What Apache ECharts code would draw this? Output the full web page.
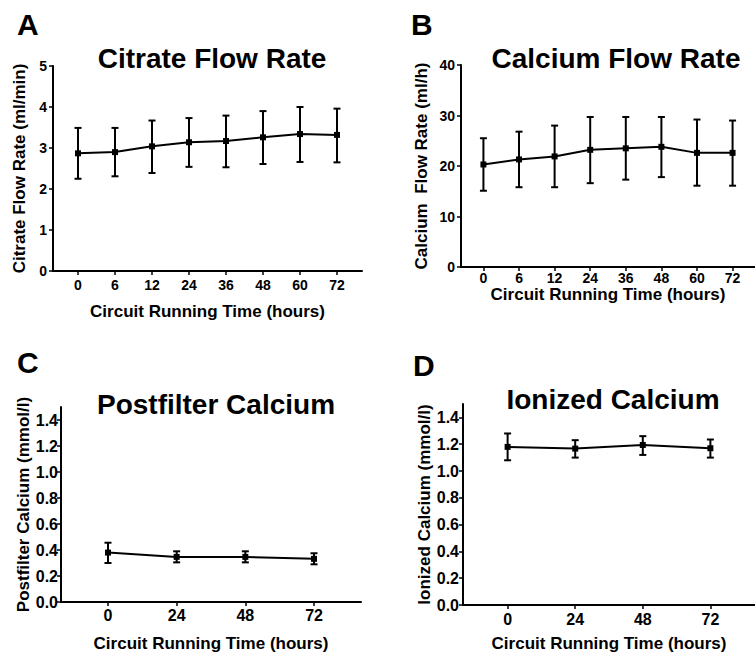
<!DOCTYPE html>
<html>
<head>
<meta charset="utf-8">
<script src="https://cdn.jsdelivr.net/npm/echarts@6/dist/echarts.min.js"></script>
<style>
html,body{margin:0;padding:0;background:#fff;}
#main{width:755px;height:653px;}
</style>
</head>
<body>
<div id="main"></div>
<script>
// ---- data ----
const catsAB = ['0', '6', '12', '24', '36', '48', '60', '72'];
const catsCD = ['0', '24', '48', '72'];

const citrateMean  = [2.87, 2.90, 3.04, 3.14, 3.17, 3.26, 3.34, 3.32];
const citrateUpper = [3.49, 3.49, 3.67, 3.73, 3.79, 3.90, 4.00, 3.96];
const citrateLower = [2.25, 2.31, 2.39, 2.54, 2.53, 2.61, 2.66, 2.65];

const calciumMean  = [20.3, 21.3, 21.9, 23.2, 23.5, 23.8, 22.6, 22.6];
const calciumUpper = [25.5, 26.8, 28.0, 29.7, 29.7, 29.7, 29.2, 29.0];
const calciumLower = [15.1, 15.8, 15.8, 16.6, 17.3, 17.8, 16.1, 16.1];

const postMean  = [0.38, 0.347, 0.347, 0.332];
const postUpper = [0.456, 0.39, 0.39, 0.375];
const postLower = [0.30, 0.305, 0.305, 0.29];

const ionMean  = [1.18, 1.167, 1.194, 1.17];
const ionUpper = [1.28, 1.23, 1.26, 1.235];
const ionLower = [1.08, 1.10, 1.12, 1.10];

const yTicksA = [0, 1, 2, 3, 4, 5];
const yTicksB = [0, 10, 20, 30, 40];
const yTicksCD = [0, 0.2, 0.4, 0.6, 0.8, 1.0, 1.2, 1.4];

// ---- chart ----
const FONT = '"Liberation Sans", Arial, Helvetica, sans-serif';
const chart = echarts.init(document.getElementById('main'), null, {renderer: 'svg'});

const panels = [
  {cats: catsAB, mean: citrateMean, up: citrateUpper, lo: citrateLower,
   grid: {left: 53, top: 66, width: 309, height: 205}, xpad: 0.676,
   ymin: 0, ymax: 5, yTicks: yTicksA, yfmt: v => String(v),
   xName: 'Circuit Running Time (hours)', yName: 'Citrate Flow Rate (ml/min)',
   xGap: 32, yGap: 25, xLabMargin: 7, yLabMargin: 6, tickFont: 14},
  {cats: catsAB, mean: calciumMean, up: calciumUpper, lo: calciumLower,
   grid: {left: 461, top: 65, width: 302, height: 202}, xpad: 0.63,
   ymin: 0, ymax: 40, yTicks: yTicksB, yfmt: v => String(v),
   xName: 'Circuit Running Time (hours)', yName: 'Calcium  Flow Rate (ml/h)',
   xGap: 19, yGap: 31, xLabMargin: 4, yLabMargin: 6, tickFont: 14},
  {cats: catsCD, mean: postMean, up: postUpper, lo: postLower,
   grid: {left: 61, top: 407, width: 300, height: 199}, xpad: 0.684,
   ymin: 0, ymax: 1.5, yTicks: yTicksCD, yfmt: v => v.toFixed(1),
   xName: 'Circuit Running Time (hours)', yName: 'Postfilter Calcium (mmol/l)',
   xGap: 33, yGap: 28, xLabMargin: 5, yLabMargin: 3, tickFont: 16},
  {cats: catsCD, mean: ionMean, up: ionUpper, lo: ionLower,
   grid: {left: 463, top: 404, width: 302, height: 202}, xpad: 0.66,
   ymin: 0, ymax: 1.5, yTicks: yTicksCD, yfmt: v => v.toFixed(1),
   xName: 'Circuit Running Time (hours)', yName: 'Ionized Calcium (mmol/l)',
   xGap: 30, yGap: 30, xLabMargin: 6, yLabMargin: 4, tickFont: 16}
];

const grids = [], xAxes = [], yAxes = [], series = [];
panels.forEach((p, i) => {
  grids.push(Object.assign({containLabel: false}, p.grid));
  const idx = p.cats.map((c, k) => k);
  xAxes.push({
    type: 'value', gridIndex: i, min: -p.xpad, max: p.cats.length - 1 + p.xpad,
    splitLine: {show: false},
    axisLine: {show: true, onZero: false, lineStyle: {color: '#000', width: 2}},
    axisTick: {show: true, customValues: idx, length: 4, lineStyle: {color: '#000', width: 1.5}},
    axisLabel: {customValues: idx, formatter: v => p.cats[Math.round(v)], color: '#000',
      fontFamily: FONT, fontWeight: 'bold', fontSize: p.tickFont, margin: p.xLabMargin},
    name: p.xName, nameLocation: 'middle', nameGap: p.xGap,
    nameTextStyle: {color: '#000', fontFamily: FONT, fontWeight: 'bold', fontSize: 17}
  });
  yAxes.push({
    type: 'value', gridIndex: i, min: p.ymin, max: p.ymax,
    splitLine: {show: false},
    axisLine: {show: true, onZero: false, lineStyle: {color: '#000', width: 2}},
    axisTick: {show: true, customValues: p.yTicks, length: 4, lineStyle: {color: '#000', width: 1.5}},
    axisLabel: {customValues: p.yTicks, formatter: p.yfmt, color: '#000',
      fontFamily: FONT, fontWeight: 'bold', fontSize: p.tickFont, margin: p.yLabMargin},
    name: p.yName, nameLocation: 'middle', nameGap: p.yGap, nameRotate: 90,
    nameTextStyle: {color: '#000', fontFamily: FONT, fontWeight: 'bold', fontSize: 17}
  });
  series.push({
    type: 'custom', xAxisIndex: i, yAxisIndex: i,
    data: p.cats.map((c, k) => [k, p.lo[k], p.up[k]]),
    renderItem: function (params, api) {
      const x = api.value(0);
      const lo = api.coord([x, api.value(1)]);
      const hi = api.coord([x, api.value(2)]);
      const w = 3.5;
      const st = {stroke: '#000', lineWidth: 2};
      return {type: 'group', children: [
        {type: 'line', shape: {x1: lo[0], y1: lo[1], x2: hi[0], y2: hi[1]}, style: st},
        {type: 'line', shape: {x1: lo[0] - w, y1: lo[1], x2: lo[0] + w, y2: lo[1]}, style: st},
        {type: 'line', shape: {x1: hi[0] - w, y1: hi[1], x2: hi[0] + w, y2: hi[1]}, style: st}
      ]};
    },
    z: 2
  });
  series.push({
    type: 'line', xAxisIndex: i, yAxisIndex: i,
    data: p.mean.map((v, k) => [k, v]),
    symbol: 'rect', symbolSize: 6,
    itemStyle: {color: '#000'},
    lineStyle: {color: '#000', width: 2},
    z: 3, animation: false
  });
});

const titleStyle = {color: '#000', fontFamily: FONT, fontWeight: 'bold', fontSize: 28};
const letterStyle = {color: '#000', fontFamily: FONT, fontWeight: 'bold', fontSize: 30};
chart.setOption({
  animation: false,
  backgroundColor: '#fff',
  title: [
    {text: 'A', left: 17, top: 9, textStyle: letterStyle, padding: 0},
    {text: 'B', left: 411, top: 9, textStyle: letterStyle, padding: 0},
    {text: 'C', left: 17, top: 347, textStyle: letterStyle, padding: 0},
    {text: 'D', left: 413, top: 350, textStyle: letterStyle, padding: 0},
    {text: 'Citrate Flow Rate', left: 212, top: 44, textAlign: 'center', textStyle: titleStyle, padding: 0},
    {text: 'Calcium Flow Rate', left: 616, top: 44, textAlign: 'center', textStyle: titleStyle, padding: 0},
    {text: 'Postfilter Calcium', left: 216, top: 390, textAlign: 'center', textStyle: titleStyle, padding: 0},
    {text: 'Ionized Calcium', left: 613, top: 385, textAlign: 'center', textStyle: titleStyle, padding: 0}
  ],
  grid: grids, xAxis: xAxes, yAxis: yAxes, series: series
});
</script>
</body>
</html>
